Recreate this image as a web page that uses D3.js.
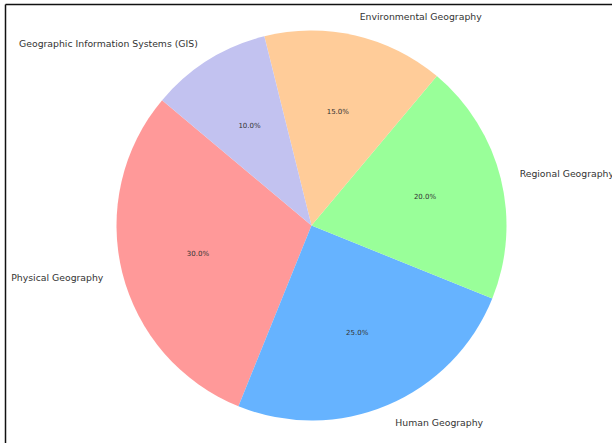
<!DOCTYPE html>
<html><head><meta charset="utf-8">
<script src="https://cdn.jsdelivr.net/npm/d3@7"></script>
<style>html,body{margin:0;padding:0;background:#fff;}svg{display:block;}</style>
</head><body>
<svg id="chart" width="612" height="443"></svg>
<script>
const categories = ["Physical Geography","Human Geography","Regional Geography","Environmental Geography","Geographic Information Systems (GIS)"];
const values = [30,25,20,15,10];
const colors = ["#ff9999","#66b3ff","#99ff99","#ffcc99","#c2c2f0"];

const svg = d3.select("#chart");
const W = 612, H = 443;
const cx = 311.5, cy = 225.5, r = 195;
const startAngleDeg = 140;

// frame
svg.append("line").attr("x1",5.5).attr("y1",4.5).attr("x2",W).attr("y2",4.5).attr("stroke","#111").attr("stroke-width",1.5);
svg.append("line").attr("x1",5.5).attr("y1",4.5).attr("x2",5.5).attr("y2",H).attr("stroke","#111").attr("stroke-width",1.5);

const total = d3.sum(values);
const toD3 = deg => (90 - deg) * Math.PI/180;
const g = svg.append("g").attr("transform",`translate(${cx},${cy})`);
const arc = d3.arc().innerRadius(0).outerRadius(r);

let acc = startAngleDeg;
const slices = values.map((v,i)=>{
  const a0 = acc, a1 = acc + v/total*360;
  acc = a1;
  return {i, v, a0, a1, mid:(a0+a1)/2};
});

g.selectAll("path").data(slices).enter().append("path")
  .attr("d", d => arc({startAngle: toD3(d.a1), endAngle: toD3(d.a0)}))
  .attr("fill", d => colors[d.i]);

const fmt = d3.format(".1f");
slices.forEach(d=>{
  const rad = d.mid*Math.PI/180;
  const cos = Math.cos(rad), sin = Math.sin(rad);
  g.append("text")
    .attr("x", 1.1*r*cos).attr("y", -1.1*r*sin)
    .attr("text-anchor", cos>=0 ? "start" : "end")
    .attr("dominant-baseline","central")
    .attr("font-family","DejaVu Sans")
    .attr("font-size","9.3px")
    .attr("fill","#333")
    .text(categories[d.i]);
  g.append("text")
    .attr("x", 0.6*r*cos).attr("y", -0.6*r*sin)
    .attr("text-anchor","middle")
    .attr("dominant-baseline","central")
    .attr("font-family","DejaVu Sans")
    .attr("font-size","7px")
    .attr("fill","#333")
    .text(fmt(d.v/total*100)+"%");
});
</script>
</body></html>
